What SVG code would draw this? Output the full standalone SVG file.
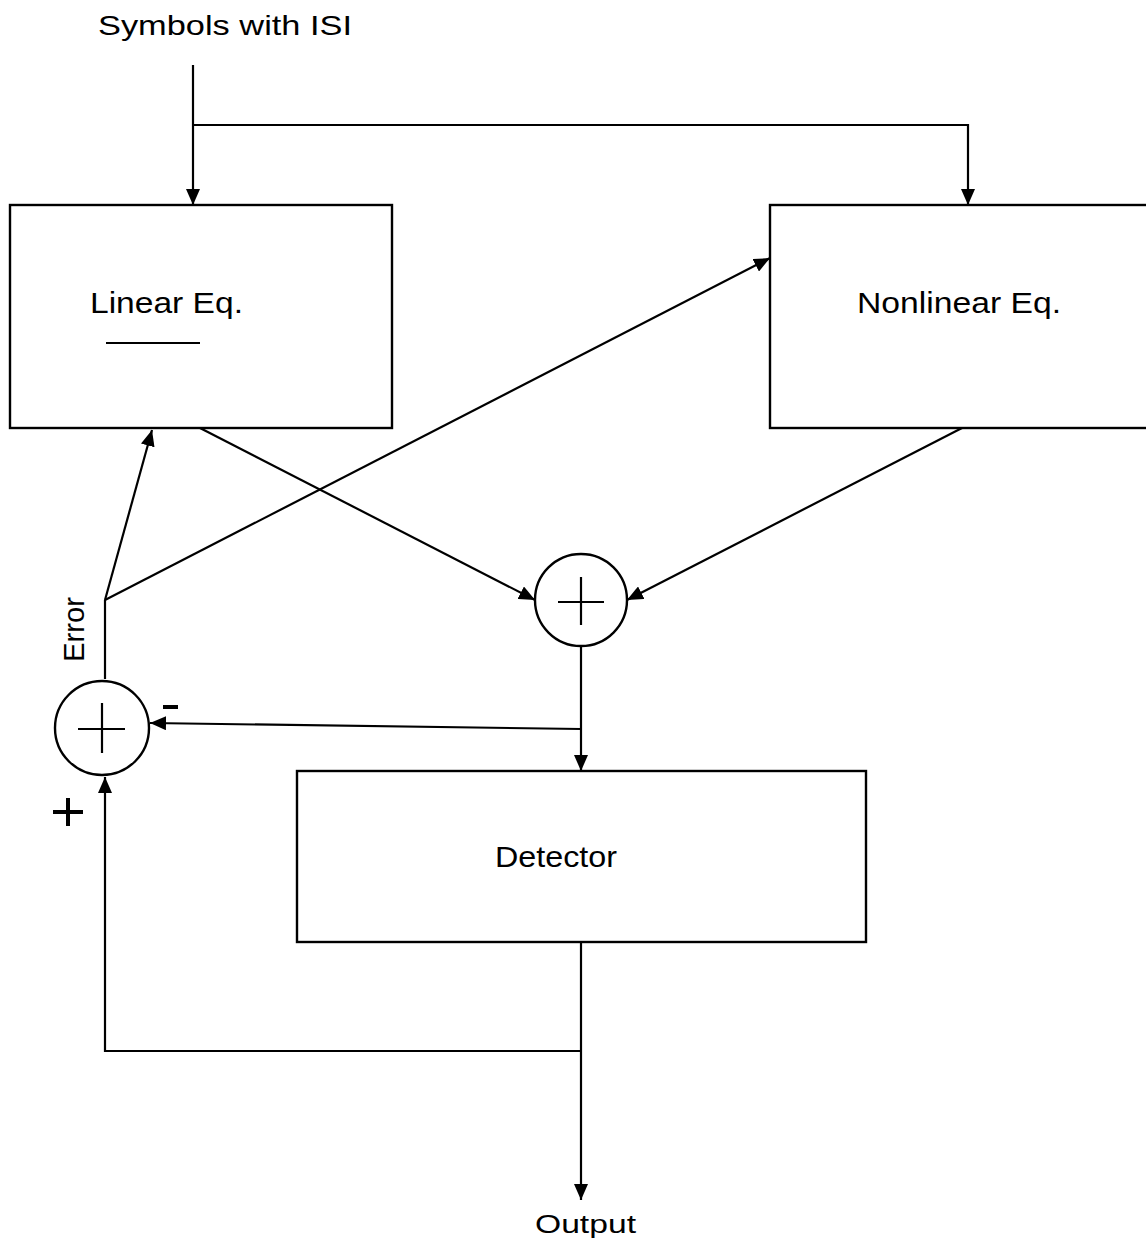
<svg xmlns="http://www.w3.org/2000/svg" width="1146" height="1244" viewBox="0 0 1146 1244">
<defs>
<marker id="ah" markerWidth="16" markerHeight="14" refX="16" refY="7" orient="auto" markerUnits="userSpaceOnUse">
<path d="M0,0 L16,7 L0,14 Z" fill="#000"/>
</marker>
<style>
.box{fill:#fff;stroke:#000;stroke-width:2.4}
.ln{fill:none;stroke:#000;stroke-width:2.2}
.lbl{font-family:"Liberation Sans",Arial,sans-serif;fill:#000}
.sum{fill:#fff;stroke:#000;stroke-width:2.4}
</style>
</defs>
<rect width="1146" height="1244" fill="#fff"/>
<text class="lbl" x="98" y="35" font-size="28" textLength="254" lengthAdjust="spacingAndGlyphs">Symbols with ISI</text>
<g id="connectors">
<line class="ln" x1="193" y1="65" x2="193" y2="205" marker-end="url(#ah)"/>
<polyline class="ln" points="193,125 968,125 968,205" marker-end="url(#ah)"/>
<line class="ln" x1="105" y1="679" x2="105" y2="600"/>
<line class="ln" x1="105" y1="600" x2="152" y2="430" marker-end="url(#ah)"/>
<line class="ln" x1="105" y1="600" x2="770" y2="258" marker-end="url(#ah)"/>
<line class="ln" x1="200" y1="428" x2="535" y2="600" marker-end="url(#ah)"/>
<line class="ln" x1="962" y1="428" x2="627" y2="600" marker-end="url(#ah)"/>
<line class="ln" x1="581" y1="647" x2="581" y2="771" marker-end="url(#ah)"/>
<line class="ln" x1="581" y1="729" x2="150" y2="723" marker-end="url(#ah)"/>
<line class="ln" x1="581" y1="942" x2="581" y2="1200" marker-end="url(#ah)"/>
<polyline class="ln" points="581,1051 105,1051 105,777" marker-end="url(#ah)"/>
</g>
<g id="linear">
<rect class="box" x="10" y="205" width="382" height="223"/>
<text class="lbl" x="90" y="313" font-size="30" textLength="153" lengthAdjust="spacingAndGlyphs">Linear Eq.</text>
<line class="ln" x1="106" y1="343" x2="200" y2="343"/>
</g>
<g id="nonlinear">
<rect class="box" x="770" y="205" width="400" height="223"/>
<text class="lbl" x="857" y="313" font-size="30" textLength="204" lengthAdjust="spacingAndGlyphs">Nonlinear Eq.</text>
</g>
<g id="sum1">
<circle class="sum" cx="581" cy="600" r="46"/>
<line class="ln" x1="558" y1="602" x2="604" y2="602"/>
<line class="ln" x1="581" y1="577" x2="581" y2="625"/>
</g>
<g id="sum2">
<circle class="sum" cx="102" cy="728" r="47"/>
<line class="ln" x1="78" y1="729" x2="125" y2="729"/>
<line class="ln" x1="102" y1="703" x2="102" y2="753"/>
</g>
<g id="detector">
<rect class="box" x="297" y="771" width="569" height="171"/>
<text class="lbl" x="495" y="867" font-size="30" textLength="122" lengthAdjust="spacingAndGlyphs">Detector</text>
</g>
<text class="lbl" transform="translate(84,662) rotate(-90)" font-size="30" textLength="65" lengthAdjust="spacingAndGlyphs">Error</text>
<line x1="163" y1="707" x2="178" y2="707" stroke="#000" stroke-width="4"/>
<line x1="53" y1="812" x2="83" y2="812" stroke="#000" stroke-width="4"/>
<line x1="68" y1="798" x2="68" y2="826" stroke="#000" stroke-width="4"/>
<text class="lbl" x="535" y="1233" font-size="26" textLength="101" lengthAdjust="spacingAndGlyphs">Output</text>
</svg>
